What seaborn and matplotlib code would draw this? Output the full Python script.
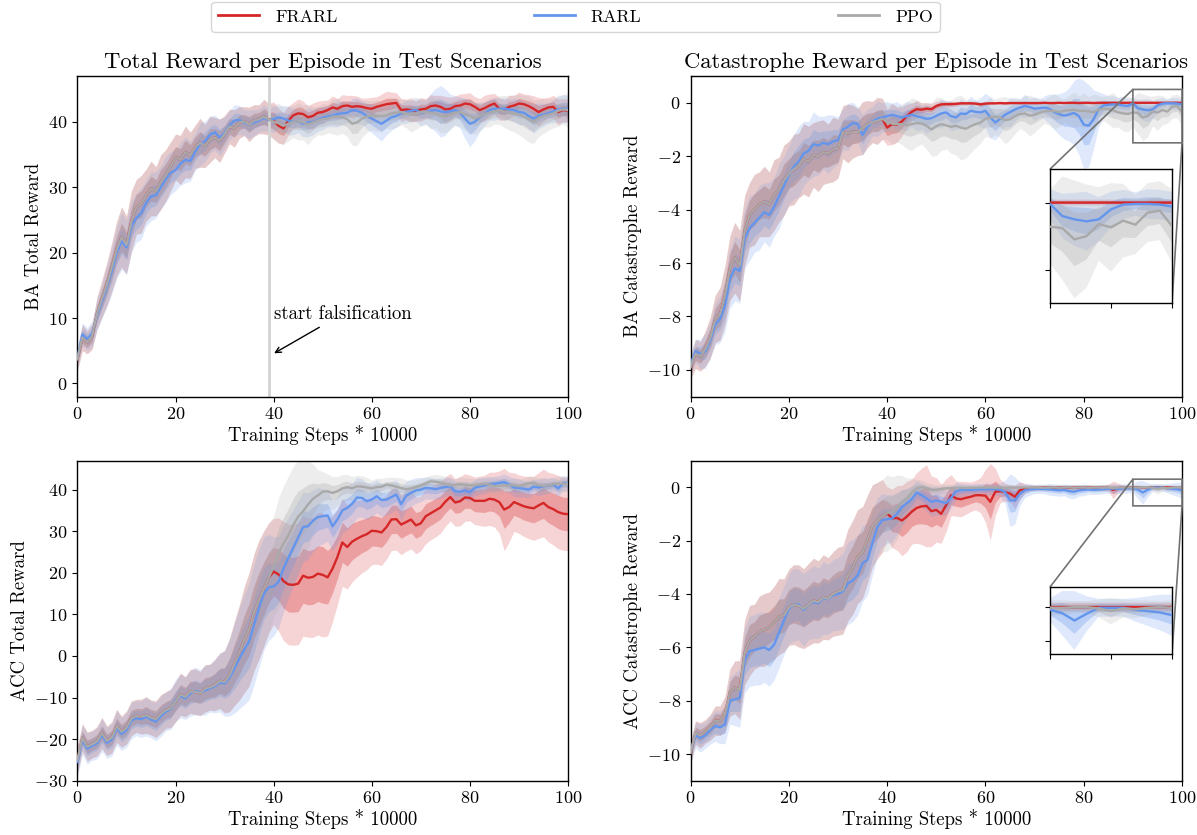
import numpy as np
import matplotlib
matplotlib.use("Agg")
import matplotlib.pyplot as plt
import seaborn as sns
from matplotlib.lines import Line2D

# ---------------- data (x = training steps * 10000) ----------------
steps = list(range(0, 101))
series_names = ["FRARL", "RARL", "PPO"]

# Panel 1: BA total reward
ba_total_ppo = [3.7, 7.0, 6.3, 7.2, 10.8, 13.0, 15.2, 17.8, 20.6, 22.4,
                21.2, 24.8, 27.0, 27.4, 28.8, 29.8, 29.4, 30.8, 31.8, 33.2,
                34.6, 34.2, 35.4, 34.9, 36.2, 36.8, 36.3, 37.3, 37.6, 37.1,
                38.1, 39.3, 39.0, 39.9, 40.1, 39.6, 40.2, 40.4, 40.8, 40.4,
                40.0, 39.8, 39.4, 39.7, 40.0, 40.1, 39.9, 39.6, 39.9, 40.2,
                40.4, 40.5, 40.8, 40.8, 40.7, 40.4, 39.7, 39.9, 40.5, 40.8,
                41.0, 40.9, 40.9, 41.0, 41.3, 41.4, 41.5, 41.3, 41.1, 41.3,
                41.5, 41.5, 41.4, 41.3, 41.0, 40.8, 41.0, 41.4, 41.5, 41.1,
                40.9, 40.5, 40.8, 41.2, 41.4, 41.6, 41.8, 41.6, 41.4, 41.3,
                41.1, 40.8, 40.4, 40.0, 40.6, 40.9, 41.1, 41.3, 41.7, 41.9, 41.8]
ba_total_ppo_sd = [0.8, 0.9, 0.8, 0.9, 1.1, 1.3, 1.5, 1.7, 1.9, 2.1,
                   2.0, 2.1, 1.9, 2.0, 1.8, 1.9, 1.7, 1.9, 1.8, 1.7,
                   1.6, 1.7, 1.8, 1.6, 1.5, 1.7, 1.5, 1.6, 1.4, 1.5,
                   1.3, 1.2, 1.3, 1.1, 1.0, 1.2, 1.1, 1.0, 1.2, 1.1,
                   1.2, 1.4, 1.3, 1.2, 1.1, 1.3, 1.2, 1.4, 1.1, 1.0,
                   1.1, 1.0, 1.2, 1.3, 1.1, 1.2, 1.5, 1.6, 1.3, 1.1,
                   1.0, 1.1, 1.0, 0.9, 1.1, 1.0, 0.9, 1.0, 1.2, 1.1,
                   1.0, 0.9, 1.1, 1.0, 1.2, 1.1, 1.0, 0.9, 1.0, 1.1,
                   1.2, 1.1, 1.0, 0.9, 1.0, 0.9, 1.0, 1.1, 1.2, 1.3,
                   1.4, 1.5, 1.6, 1.5, 1.3, 1.2, 1.1, 1.0, 1.1, 1.0, 1.2]
ba_total_rarl = [3.9, 7.5, 6.8, 7.6, 10.5, 12.6, 14.8, 17.2, 20.0, 21.8,
                 20.8, 24.0, 25.3, 26.0, 27.6, 28.6, 28.8, 30.0, 31.2, 32.2,
                 32.6, 33.6, 34.2, 34.0, 35.4, 36.6, 37.0, 38.0, 38.4, 37.6,
                 38.3, 39.5, 40.2, 40.3, 39.9, 39.6, 39.9, 40.2, 40.6, 40.3,
                 40.4, 40.7, 40.5, 40.2, 40.0, 40.1, 39.7, 39.9, 40.0, 40.3,
                 40.6, 40.8, 41.0, 41.2, 41.3, 41.4, 41.8, 41.7, 41.4, 40.9,
                 40.5, 40.1, 39.7, 40.2, 40.7, 40.9, 41.3, 41.5, 41.7, 41.8,
                 41.4, 41.5, 41.7, 41.8, 41.6, 41.5, 41.6, 41.8, 41.4, 40.5,
                 39.7, 40.0, 40.7, 41.2, 41.8, 42.0, 42.0, 42.0, 41.9, 41.8,
                 41.5, 41.4, 40.9, 40.5, 40.9, 41.1, 41.3, 41.6, 41.9, 42.0, 42.0]
ba_total_rarl_sd = [0.7, 0.8, 0.8, 0.9, 1.1, 1.2, 1.4, 1.6, 1.8, 2.0,
                    1.9, 1.8, 1.7, 1.8, 1.6, 1.7, 1.6, 1.5, 1.6, 1.5,
                    1.4, 1.5, 1.6, 1.4, 1.3, 1.5, 1.4, 1.3, 1.2, 1.3,
                    1.1, 1.0, 1.1, 1.0, 0.9, 1.0, 0.9, 0.8, 0.9, 0.8,
                    0.9, 0.8, 0.9, 1.0, 0.9, 0.8, 0.9, 1.0, 0.9, 0.8,
                    0.8, 0.7, 0.8, 0.9, 0.8, 0.7, 0.8, 0.9, 0.8, 0.9,
                    1.0, 1.1, 1.2, 1.0, 0.9, 0.8, 0.7, 0.8, 0.7, 0.8,
                    0.9, 0.8, 1.2, 1.5, 1.8, 1.6, 1.2, 1.0, 1.1, 1.4,
                    1.6, 1.3, 1.0, 0.8, 0.7, 0.8, 0.7, 0.8, 0.7, 0.8,
                    0.9, 0.8, 0.9, 1.0, 0.9, 0.8, 0.7, 0.8, 0.9, 1.0, 0.9]
# FRARL shares the PPO pre-training up to step 40; values below are steps 40..100
ba_total_frarl_tail = [40.2, 39.4, 39.0, 40.2, 41.0, 41.3, 41.2, 40.7, 40.9, 41.4,
                       41.5, 41.8, 42.2, 42.0, 42.4, 42.5, 42.3, 42.4, 42.3, 42.1,
                       42.0, 42.3, 42.5, 42.7, 42.8, 42.9, 41.8, 41.9, 41.8, 41.6,
                       41.9, 42.0, 42.4, 42.5, 42.3, 41.9, 42.0, 42.4, 42.5, 42.8,
                       42.7, 42.3, 41.8, 42.1, 42.5, 42.8, 42.0, 41.8, 42.3, 42.5,
                       42.8, 42.7, 42.4, 42.0, 41.5, 41.9, 42.2, 42.3, 41.5, 41.8, 41.7]
ba_total_frarl_tail_sd = [1.3, 1.2, 1.1, 1.0, 0.9, 1.0, 0.9, 0.8, 0.9, 0.8,
                          0.8, 0.7, 0.8, 0.7, 0.8, 0.7, 0.8, 0.7, 0.6, 0.7,
                          0.8, 0.7, 0.8, 0.9, 0.8, 0.7, 0.8, 0.7, 0.8, 0.7,
                          0.8, 0.7, 0.8, 0.7, 0.8, 0.9, 0.8, 0.7, 0.8, 0.7,
                          0.8, 0.7, 0.8, 0.9, 0.8, 0.7, 0.8, 0.7, 0.8, 0.7,
                          0.8, 0.7, 0.8, 0.9, 1.0, 0.8, 0.7, 0.8, 0.9, 0.8, 0.8]

# Panel 2: BA catastrophe reward
ba_cat_ppo = [-9.9, -9.4, -9.5, -9.2, -8.8, -8.1, -7.9, -7.2, -6.2, -5.8,
              -6.1, -4.8, -4.2, -4.0, -3.8, -3.7, -3.8, -3.45, -3.25, -2.9,
              -2.65, -2.5, -2.35, -2.1, -2.2, -1.95, -2.0, -1.85, -1.9, -1.75,
              -1.72, -1.1, -1.15, -1.08, -1.1, -0.95, -0.8, -0.72, -0.68, -0.6,
              -0.72, -0.78, -0.8, -0.8, -0.84, -0.8, -0.76, -0.78, -0.86, -1.0,
              -0.88, -0.8, -0.85, -0.9, -0.86, -0.93, -0.97, -0.88, -0.8, -0.74,
              -0.6, -0.55, -0.52, -0.56, -0.65, -0.62, -0.5, -0.42, -0.4, -0.48,
              -0.45, -0.38, -0.32, -0.3, -0.31, -0.35, -0.3, -0.28, -0.26, -0.3,
              -0.3, -0.32, -0.35, -0.26, -0.22, -0.24, -0.28, -0.36, -0.4, -0.42,
              -0.36, -0.38, -0.55, -0.5, -0.32, -0.37, -0.27, -0.33, -0.15, -0.12, -0.35]
ba_cat_ppo_sd = [0.2, 0.25, 0.25, 0.3, 0.35, 0.4, 0.45, 0.5, 0.55, 0.6,
                 0.6, 0.6, 0.55, 0.6, 0.55, 0.6, 0.55, 0.6, 0.55, 0.6,
                 0.55, 0.6, 0.55, 0.6, 0.6, 0.55, 0.6, 0.55, 0.5, 0.55,
                 0.5, 0.45, 0.5, 0.45, 0.4, 0.45, 0.4, 0.35, 0.4, 0.35,
                 0.3, 0.35, 0.3, 0.35, 0.4, 0.45, 0.4, 0.35, 0.4, 0.45,
                 0.5, 0.45, 0.4, 0.45, 0.5, 0.55, 0.5, 0.45, 0.4, 0.35,
                 0.3, 0.35, 0.3, 0.35, 0.4, 0.35, 0.3, 0.25, 0.3, 0.35,
                 0.3, 0.25, 0.2, 0.25, 0.3, 0.25, 0.2, 0.25, 0.3, 0.25,
                 0.3, 0.25, 0.3, 0.25, 0.2, 0.25, 0.3, 0.25, 0.3, 0.3,
                 0.25, 0.35, 0.4, 0.35, 0.25, 0.3, 0.25, 0.2, 0.2, 0.2, 0.25]
ba_cat_rarl = [-9.8, -9.3, -9.4, -9.3, -8.9, -8.3, -8.1, -7.6, -6.6, -6.2,
               -6.3, -5.1, -4.7, -4.5, -4.3, -4.1, -4.2, -3.9, -3.5, -3.1,
               -2.7, -2.4, -2.2, -1.9, -1.8, -1.55, -1.6, -1.5, -1.55, -1.45,
               -1.4, -1.0, -0.9, -0.75, -0.8, -1.2, -0.9, -0.7, -0.6, -0.55,
               -0.5, -0.45, -0.5, -0.55, -0.5, -0.45, -0.5, -0.55, -0.6, -0.58,
               -0.49, -0.4, -0.36, -0.5, -0.55, -0.4, -0.42, -0.3, -0.34, -0.36,
               -0.3, -0.55, -0.74, -0.6, -0.45, -0.35, -0.25, -0.18, -0.12, -0.16,
               -0.22, -0.2, -0.18, -0.22, -0.35, -0.43, -0.48, -0.44, -0.38, -0.5,
               -0.82, -0.86, -0.62, -0.25, -0.1, -0.08, -0.06, -0.07, -0.1, -0.12,
               -0.02, -0.2, -0.25, -0.28, -0.25, -0.1, -0.03, -0.02, -0.02, -0.03, -0.06]
ba_cat_rarl_sd = [0.2, 0.2, 0.25, 0.3, 0.3, 0.35, 0.4, 0.45, 0.5, 0.55,
                  0.55, 0.5, 0.55, 0.5, 0.55, 0.5, 0.55, 0.5, 0.55, 0.5,
                  0.5, 0.55, 0.6, 0.55, 0.5, 0.55, 0.5, 0.45, 0.5, 0.45,
                  0.4, 0.35, 0.4, 0.35, 0.3, 0.35, 0.3, 0.25, 0.3, 0.25,
                  0.25, 0.2, 0.25, 0.2, 0.25, 0.2, 0.25, 0.2, 0.25, 0.2,
                  0.2, 0.25, 0.2, 0.25, 0.2, 0.25, 0.2, 0.25, 0.2, 0.25,
                  0.3, 0.35, 0.3, 0.25, 0.2, 0.25, 0.2, 0.15, 0.2, 0.15,
                  0.2, 0.15, 0.2, 0.25, 0.3, 0.35, 0.4, 0.45, 0.55, 0.65,
                  0.75, 0.7, 0.5, 0.3, 0.2, 0.15, 0.15, 0.12, 0.15, 0.12,
                  0.1, 0.15, 0.18, 0.2, 0.15, 0.12, 0.1, 0.08, 0.1, 0.1, 0.1]
ba_cat_frarl_tail = [-0.93, -0.8, -0.82, -0.7, -0.5, -0.34, -0.24, -0.26, -0.22, -0.24,
                     -0.12, -0.06, -0.05, -0.05, -0.04, -0.02, -0.02, -0.02, -0.03, -0.06,
                     -0.03, -0.02, -0.02, -0.01, -0.02, -0.01, -0.01, -0.01, -0.01, -0.01,
                     -0.01, -0.01, 0.0, -0.01, -0.01, 0.0, -0.01, 0.0, 0.0, -0.01,
                     0.0, 0.0, -0.01, 0.0, 0.0, 0.0, 0.0, 0.0, 0.0, 0.0,
                     0.0, 0.0, 0.0, 0.0, 0.0, 0.0, 0.0, 0.0, 0.0, 0.0, 0.0]
ba_cat_frarl_tail_sd = [0.3, 0.35, 0.3, 0.25, 0.2, 0.15, 0.15, 0.12, 0.1, 0.1,
                        0.08, 0.06, 0.05, 0.05, 0.04, 0.03, 0.03, 0.03, 0.03, 0.04,
                        0.03, 0.02, 0.02, 0.02, 0.02, 0.02, 0.02, 0.02, 0.02, 0.02,
                        0.02, 0.02, 0.02, 0.02, 0.02, 0.02, 0.02, 0.02, 0.02, 0.02,
                        0.02, 0.02, 0.02, 0.02, 0.02, 0.02, 0.02, 0.02, 0.02, 0.02,
                        0.02, 0.02, 0.02, 0.02, 0.02, 0.02, 0.02, 0.02, 0.02, 0.02, 0.02]

# Panel 3: ACC total reward
acc_total_ppo = [-25.0, -19.6, -21.8, -21.2, -20.5, -18.5, -20.4, -19.6, -16.8, -18.2,
                 -17.2, -15.0, -14.4, -14.6, -14.2, -14.8, -15.2, -13.9, -13.0, -12.6,
                 -11.0, -9.2, -9.8, -8.5, -8.6, -9.0, -7.8, -7.5, -7.0, -6.0,
                 -6.2, -4.6, -1.8, 0.8, 3.9, 6.4, 10.5, 13.5, 16.2, 18.8,
                 21.5, 24.8, 27.0, 29.0, 31.5, 33.5, 34.8, 36.4, 37.8, 38.6,
                 39.5, 39.6, 39.2, 39.6, 40.3, 40.6, 40.3, 40.8, 40.7, 40.5,
                 40.3, 40.6, 40.7, 41.2, 41.0, 40.7, 40.4, 40.1, 40.3, 40.6,
                 41.0, 41.5, 42.0, 41.9, 41.7, 41.3, 41.0, 41.1, 41.3, 41.1,
                 41.0, 41.1, 41.2, 41.4, 41.2, 40.8, 40.9, 41.0, 41.0, 41.1,
                 40.8, 41.2, 41.5, 41.6, 41.1, 40.9, 41.0, 41.3, 41.5, 41.4, 41.4]
acc_total_ppo_sd = [1.5, 1.5, 1.6, 1.5, 1.6, 1.7, 1.6, 1.7, 1.8, 1.7,
                    1.8, 1.9, 1.8, 1.9, 2.0, 1.9, 2.0, 2.1, 2.0, 2.1,
                    2.2, 2.3, 2.2, 2.4, 2.5, 2.4, 2.6, 2.5, 2.8, 3.0,
                    3.4, 4.0, 4.6, 5.2, 5.8, 6.2, 6.4, 6.5, 6.3, 6.0,
                    5.5, 6.0, 6.3, 6.5, 6.4, 6.2, 5.6, 4.8, 3.8, 2.8,
                    2.2, 1.9, 1.8, 1.6, 1.5, 1.4, 1.3, 1.2, 1.2, 1.1,
                    0.9, 1.0, 0.9, 0.8, 0.9, 1.0, 1.1, 1.0, 0.9, 0.8,
                    0.8, 0.7, 0.7, 0.8, 0.8, 0.9, 0.8, 0.7, 0.8, 0.8,
                    0.8, 0.7, 0.8, 0.7, 0.8, 0.9, 0.8, 0.8, 0.7, 0.8,
                    0.8, 0.7, 0.8, 0.7, 0.8, 0.9, 0.8, 0.7, 0.8, 0.9, 0.8]
acc_total_rarl = [-25.5, -20.2, -22.3, -21.6, -21.0, -19.0, -20.9, -20.1, -17.3, -18.8,
                  -17.8, -15.5, -15.0, -15.2, -14.6, -15.3, -15.8, -14.5, -13.4, -12.8,
                  -10.7, -9.6, -10.2, -9.0, -8.4, -8.8, -8.3, -7.8, -7.3, -6.4,
                  -6.6, -5.2, -3.0, -0.6, 1.5, 3.5, 7.5, 11.5, 15.0, 16.5,
                  16.7, 17.8, 21.0, 23.6, 26.0, 28.5, 31.0, 31.2, 32.5, 33.4,
                  33.6, 33.8, 31.2, 32.8, 35.0, 35.6, 36.6, 38.1, 38.0, 37.2,
                  37.6, 38.4, 37.5, 37.6, 38.2, 38.8, 36.5, 38.5, 39.2, 39.8,
                  40.0, 40.4, 40.3, 40.1, 40.4, 40.6, 40.8, 39.6, 39.5, 39.8,
                  39.4, 40.4, 40.8, 41.0, 41.3, 41.4, 41.6, 41.8, 41.2, 40.5,
                  40.4, 40.2, 40.0, 40.7, 40.5, 40.8, 40.9, 41.2, 40.3, 41.5, 41.5]
acc_total_rarl_sd = [1.6, 1.6, 1.7, 1.6, 1.7, 1.8, 1.7, 1.8, 1.9, 1.8,
                     1.9, 2.0, 1.9, 2.0, 2.1, 2.0, 2.1, 2.2, 2.1, 2.2,
                     2.3, 2.4, 2.3, 2.5, 2.6, 2.5, 2.7, 2.6, 2.9, 3.2,
                     3.6, 4.2, 4.9, 5.5, 6.0, 6.4, 6.6, 6.5, 6.2, 5.8,
                     5.4, 5.0, 4.7, 4.4, 4.2, 4.0, 3.8, 3.6, 3.4, 3.2,
                     3.0, 2.8, 2.7, 2.6, 2.5, 2.4, 2.3, 2.2, 2.1, 2.0,
                     1.9, 1.8, 1.8, 1.7, 1.7, 1.6, 1.8, 1.6, 1.5, 1.4,
                     1.3, 1.2, 1.2, 1.1, 1.1, 1.0, 1.0, 1.1, 1.0, 1.0,
                     1.0, 0.9, 0.9, 0.9, 0.8, 0.8, 0.8, 0.9, 0.9, 1.0,
                     1.0, 0.9, 0.9, 0.8, 0.9, 0.9, 0.8, 0.8, 0.9, 0.8, 0.8]
acc_total_frarl_tail = [20.3, 19.6, 18.0, 17.2, 17.1, 17.4, 19.3, 18.8, 19.0, 19.8,
                        19.5, 18.9, 21.0, 23.8, 27.3, 26.2, 27.5, 28.2, 28.8, 29.3,
                        30.1, 30.0, 29.7, 31.0, 32.8, 32.9, 31.6, 32.2, 32.8, 31.4,
                        31.9, 33.6, 34.3, 35.0, 35.7, 37.1, 38.2, 36.9, 37.2, 38.1,
                        38.0, 37.3, 37.3, 37.3, 37.8, 37.6, 37.0, 35.2, 35.8, 37.0,
                        36.5, 36.0, 35.7, 35.5, 36.2, 36.8, 35.8, 35.3, 34.6, 34.2, 34.1]
acc_total_frarl_tail_sd = [5.8, 6.2, 6.5, 6.6, 6.6, 6.7, 6.6, 6.5, 6.6, 6.7,
                           6.8, 6.4, 5.8, 5.2, 4.8, 4.6, 4.4, 4.2, 4.0, 3.9,
                           3.7, 3.6, 3.6, 3.5, 3.4, 3.4, 3.3, 3.2, 3.2, 3.1,
                           3.0, 3.0, 2.9, 2.9, 2.8, 2.7, 2.6, 2.6, 2.7, 2.6,
                           2.5, 2.6, 2.7, 2.8, 2.9, 3.0, 3.4, 4.5, 3.8, 3.2,
                           3.2, 3.3, 3.4, 3.5, 3.6, 3.7, 3.8, 3.9, 4.0, 4.0, 4.0]

# Panel 4: ACC catastrophe reward
acc_cat_ppo = [-9.96, -9.2, -9.3, -9.15, -9.0, -8.75, -8.75, -8.5, -7.7, -7.5,
               -7.6, -6.2, -5.75, -5.6, -5.4, -5.35, -5.25, -5.08, -4.85, -4.8,
               -4.5, -4.4, -4.45, -4.55, -4.4, -4.25, -4.3, -4.12, -4.18, -4.0,
               -3.9, -3.85, -3.3, -3.0, -2.6, -2.45, -1.95, -1.45, -1.25, -1.08,
               -0.97, -0.93, -0.75, -0.55, -0.42, -0.2, -0.04, 0.0, -0.04, -0.1,
               -0.1, -0.06, -0.04, -0.03, -0.02, -0.02, -0.03, -0.02, -0.02, -0.01,
               -0.02, -0.01, -0.02, -0.01, -0.02, -0.01, -0.02, -0.01, -0.01, -0.01,
               -0.01, -0.01, -0.02, -0.01, -0.01, -0.02, -0.01, -0.01, -0.02, -0.01,
               -0.01, -0.02, -0.01, -0.01, -0.02, -0.01, -0.03, -0.01, -0.01, -0.01,
               -0.01, -0.01, 0.0, 0.0, -0.02, -0.06, -0.02, -0.03, -0.01, 0.0, -0.01]
acc_cat_ppo_sd = [0.18, 0.2, 0.22, 0.2, 0.22, 0.25, 0.25, 0.3, 0.4, 0.45,
                  0.5, 0.55, 0.6, 0.55, 0.6, 0.62, 0.6, 0.62, 0.65, 0.62,
                  0.65, 0.68, 0.7, 0.68, 0.7, 0.72, 0.7, 0.72, 0.7, 0.72,
                  0.75, 0.75, 0.78, 0.8, 0.8, 0.78, 0.75, 0.7, 0.65, 0.62,
                  0.65, 0.6, 0.55, 0.45, 0.35, 0.25, 0.15, 0.12, 0.1, 0.1,
                  0.08, 0.08, 0.07, 0.06, 0.06, 0.05, 0.06, 0.05, 0.05, 0.05,
                  0.05, 0.05, 0.05, 0.05, 0.05, 0.05, 0.05, 0.05, 0.05, 0.05,
                  0.05, 0.05, 0.05, 0.05, 0.05, 0.05, 0.05, 0.05, 0.05, 0.05,
                  0.05, 0.05, 0.05, 0.05, 0.05, 0.05, 0.06, 0.05, 0.05, 0.05,
                  0.05, 0.05, 0.04, 0.04, 0.06, 0.09, 0.06, 0.06, 0.05, 0.04, 0.05]
acc_cat_rarl = [-9.9, -9.3, -9.4, -9.3, -9.1, -8.95, -9.0, -8.9, -8.0, -7.95,
                -7.9, -6.5, -6.15, -6.1, -6.05, -6.0, -6.1, -5.9, -5.45, -5.0,
                -4.55, -4.4, -4.4, -4.6, -4.4, -4.3, -4.35, -4.15, -4.2, -4.05,
                -4.0, -3.9, -3.6, -3.5, -3.3, -2.85, -2.72, -2.1, -1.5, -1.23,
                -1.2, -1.17, -1.0, -0.75, -0.6, -0.45, -0.2, -0.3, -0.42, -0.55,
                -0.5, -0.55, -0.6, -0.4, -0.15, -0.11, -0.1, -0.1, -0.09, -0.08,
                -0.08, -0.07, -0.07, -0.1, -0.18, -0.49, -0.5, -0.25, -0.12, -0.08,
                -0.07, -0.06, -0.07, -0.08, -0.1, -0.12, -0.1, -0.15, -0.17, -0.12,
                -0.1, -0.08, -0.1, -0.09, -0.07, -0.06, -0.05, -0.06, -0.05, -0.04,
                -0.04, -0.09, -0.2, -0.1, -0.01, -0.01, -0.01, -0.04, -0.06, -0.08, -0.12]
acc_cat_rarl_sd = [0.2, 0.22, 0.24, 0.22, 0.24, 0.26, 0.28, 0.32, 0.4, 0.45,
                   0.5, 0.55, 0.6, 0.6, 0.62, 0.6, 0.62, 0.6, 0.6, 0.58,
                   0.6, 0.62, 0.6, 0.62, 0.6, 0.62, 0.6, 0.62, 0.6, 0.6,
                   0.62, 0.65, 0.7, 0.7, 0.68, 0.65, 0.6, 0.55, 0.5, 0.45,
                   0.42, 0.4, 0.35, 0.3, 0.25, 0.22, 0.2, 0.2, 0.22, 0.25,
                   0.25, 0.22, 0.2, 0.18, 0.15, 0.12, 0.1, 0.1, 0.1, 0.1,
                   0.1, 0.1, 0.1, 0.12, 0.2, 0.45, 0.4, 0.2, 0.12, 0.1,
                   0.08, 0.08, 0.08, 0.1, 0.1, 0.1, 0.1, 0.12, 0.12, 0.1,
                   0.1, 0.08, 0.08, 0.08, 0.08, 0.08, 0.08, 0.08, 0.08, 0.08,
                   0.08, 0.15, 0.2, 0.12, 0.06, 0.06, 0.06, 0.08, 0.1, 0.12, 0.14]
acc_cat_frarl_tail = [-0.98, -1.17, -1.15, -1.25, -1.1, -0.92, -0.78, -0.72, -0.7, -0.9,
                      -0.85, -1.0, -0.67, -0.3, -0.42, -0.45, -0.4, -0.36, -0.3, -0.3,
                      -0.32, -0.55, -0.17, -0.15, -0.18, -0.24, -0.36, -0.12, -0.05, -0.03,
                      -0.02, -0.02, -0.01, -0.01, -0.02, -0.01, -0.01, -0.02, -0.01, -0.01,
                      -0.01, -0.01, -0.01, -0.01, -0.02, -0.02, -0.1, -0.03, -0.01, -0.01,
                      0.0, 0.0, 0.0, 0.0, 0.0, 0.0, 0.0, 0.0, 0.0, 0.0, 0.0]
acc_cat_frarl_tail_sd = [0.45, 0.5, 0.55, 0.6, 0.6, 0.55, 0.6, 0.65, 0.7, 0.6,
                         0.55, 0.5, 0.45, 0.35, 0.3, 0.3, 0.28, 0.25, 0.25, 0.3,
                         0.45, 0.65, 0.4, 0.2, 0.15, 0.15, 0.2, 0.15, 0.08, 0.05,
                         0.04, 0.04, 0.04, 0.04, 0.04, 0.04, 0.04, 0.04, 0.04, 0.04,
                         0.04, 0.04, 0.04, 0.04, 0.05, 0.06, 0.15, 0.08, 0.04, 0.04,
                         0.03, 0.03, 0.03, 0.03, 0.03, 0.03, 0.03, 0.03, 0.03, 0.03, 0.03]

falsification_start = 39

# ---------------- style ----------------
plt.rcParams.update({
    "font.family": "serif",
    "font.serif": ["cmr10"],
    "mathtext.fontset": "cm",
    "axes.formatter.use_mathtext": True,
    "axes.unicode_minus": True,
    "axes.linewidth": 1.0,
})

RED = "#d62728"
BLUE = "#6495ED"
GRAY = "#a9a9a9"
colors = {"FRARL": RED, "RARL": BLUE, "PPO": GRAY}

TICK_FS = 13
LABEL_FS = 13.5
TITLE_FS = 16.3

fig = plt.figure(figsize=(11.97, 8.35), dpi=100)
ax1 = fig.add_axes([0.0647, 0.5251, 0.4098, 0.3838])
ax2 = fig.add_axes([0.5769, 0.5251, 0.4106, 0.3838])
ax3 = fig.add_axes([0.0647, 0.0650, 0.4098, 0.3835])
ax4 = fig.add_axes([0.5769, 0.0650, 0.4106, 0.3835])


def full_frarl(ppo, tail):
    return list(ppo[:40]) + list(tail)


def draw(ax, ppo, ppo_sd, rarl, rarl_sd, frarl_tail, frarl_tail_sd):
    data = {
        "FRARL": (full_frarl(ppo, frarl_tail), full_frarl(ppo_sd, frarl_tail_sd)),
        "RARL": (rarl, rarl_sd),
        "PPO": (ppo, ppo_sd),
    }
    for name in series_names:
        m = np.asarray(data[name][0], dtype=float)
        s = np.asarray(data[name][1], dtype=float)
        c = colors[name]
        ax.fill_between(steps, m - 2.2 * s, m + 2.2 * s, color=c, alpha=0.2, lw=0, zorder=1)
        ax.fill_between(steps, m - s, m + s, color=c, alpha=0.3, lw=0, zorder=1)
    for name in series_names:
        sns.lineplot(x=steps, y=data[name][0], color=colors[name], lw=1.7,
                     estimator=None, legend=False, ax=ax, zorder=3)


panels = [
    (ax1, ba_total_ppo, ba_total_ppo_sd, ba_total_rarl, ba_total_rarl_sd,
     ba_total_frarl_tail, ba_total_frarl_tail_sd),
    (ax2, ba_cat_ppo, ba_cat_ppo_sd, ba_cat_rarl, ba_cat_rarl_sd,
     ba_cat_frarl_tail, ba_cat_frarl_tail_sd),
    (ax3, acc_total_ppo, acc_total_ppo_sd, acc_total_rarl, acc_total_rarl_sd,
     acc_total_frarl_tail, acc_total_frarl_tail_sd),
    (ax4, acc_cat_ppo, acc_cat_ppo_sd, acc_cat_rarl, acc_cat_rarl_sd,
     acc_cat_frarl_tail, acc_cat_frarl_tail_sd),
]
for p in panels:
    draw(*p)

ylabels = ["BA Total Reward", "BA Catastrophe Reward",
           "ACC Total Reward", "ACC Catastrophe Reward"]
ylims = [(-2, 47), (-11, 1), (-30, 47), (-11, 1)]
yticks = [[0, 10, 20, 30, 40], [-10, -8, -6, -4, -2, 0],
          [-30, -20, -10, 0, 10, 20, 30, 40], [-10, -8, -6, -4, -2, 0]]
for ax, yl, lim, yt in zip([ax1, ax2, ax3, ax4], ylabels, ylims, yticks):
    ax.set_xlim(0, 100)
    ax.set_ylim(*lim)
    ax.set_xticks([0, 20, 40, 60, 80, 100])
    ax.set_yticks(yt)
    ax.set_xlabel("Training Steps * 10000", fontsize=LABEL_FS, labelpad=2)
    ax.set_ylabel(yl, fontsize=LABEL_FS)
    ax.tick_params(labelsize=TICK_FS)

ax1.set_title("Total Reward per Episode in Test Scenarios", fontsize=TITLE_FS)
ax2.set_title("Catastrophe Reward per Episode in Test Scenarios", fontsize=TITLE_FS)

# falsification marker
ax1.axvline(falsification_start, color="lightgray", lw=2, zorder=2)
ax1.text(40, 9.9, "start falsification", fontsize=LABEL_FS, ha="left", va="baseline")
ax1.annotate("", xy=(39.6, 4.4), xytext=(49.8, 8.8),
             arrowprops=dict(arrowstyle="->", color="black", lw=1.0))

# insets
def make_inset(ax, bounds, ylim, yt, *args):
    axin = ax.inset_axes(bounds)
    draw(axin, *args)
    axin.set_xlim(90, 100)
    axin.set_ylim(*ylim)
    axin.set_xticks([90, 95, 100])
    axin.set_yticks(yt)
    axin.set_xticklabels([])
    axin.set_yticklabels([])
    axin.set_xlabel("")
    axin.set_ylabel("")
    ax.indicate_inset_zoom(axin, edgecolor="0.45", alpha=1.0, lw=1.2)
    return axin

make_inset(ax2, [0.7314, 0.2917, 0.2482, 0.418], (-1.5, 0.5), [0, -1], *panels[1][1:])
make_inset(ax4, [0.7314, 0.3957, 0.2482, 0.2092], (-0.7, 0.3), [0, -0.5], *panels[3][1:])

# legend
handles = [Line2D([0], [0], color=colors[n], lw=2) for n in series_names]
fig.legend(handles, series_names, loc="upper left",
           bbox_to_anchor=(211 / 1197, 1 - 2 / 835, 729 / 1197, 0.0),
           ncol=3, mode="expand", borderaxespad=0, fontsize=12.8,
           handlelength=2.3, handletextpad=0.9)

fig.savefig("out.png", dpi=100)
